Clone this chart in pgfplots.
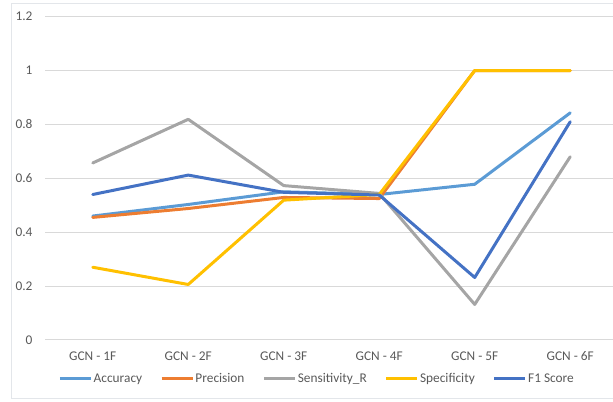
\documentclass[border=0pt]{standalone}
\usepackage{pgfplots}
\pgfplotsset{compat=1.18}
\usepackage{fontspec}
\setmainfont{Carlito}
\definecolor{cAcc}{HTML}{5B9BD5}
\definecolor{cPre}{HTML}{ED7D31}
\definecolor{cSen}{HTML}{A5A5A5}
\definecolor{cSpe}{HTML}{FFC000}
\definecolor{cF1}{HTML}{4472C4}
\definecolor{gridc}{HTML}{D9D9D9}
\definecolor{framec}{HTML}{E3E6EA}
\definecolor{textc}{HTML}{595959}
\begin{document}
\begin{tikzpicture}[x=1pt,y=1pt]
\useasboundingbox (0,0) rectangle (459.75,301.5);
\draw[framec, line width=0.75pt] (470,298.7) -- (8.25,298.7) -- (8.25,2.25) -- (470,2.25);
\begin{axis}[
  at={(33.75pt,46.5pt)}, anchor=south west,
  scale only axis, width=426pt, height=242.5pt,
  xmin=-0.5, xmax=5.448, ymin=0, ymax=1.2,
  axis x line*=bottom, axis y line*=left,
  y axis line style={draw=none},
  x axis line style={gridc, line width=0.75pt},
  ymajorgrids, grid style={gridc, line width=0.75pt},
  ytick={0,0.2,0.4,0.6,0.8,1,1.2},
  yticklabels={0,0.2,0.4,0.6,0.8,1,1.2},
  ytick style={draw=none},
  yticklabel style={anchor=east, inner sep=0pt, xshift=-9.2pt, font=\fontsize{10}{12}\selectfont, text=textc},
  xtick={0,1,2,3,4,5},
  xticklabels={GCN - 1F,GCN - 2F,GCN - 3F,GCN - 4F,GCN - 5F,GCN - 6F},
  xtick style={draw=none},
  xticklabel style={anchor=base, inner sep=0pt, yshift=-15.5pt, font=\fontsize{10}{12}\selectfont, text=textc},
  extra x ticks={-0.5,0.5,1.5,2.5,3.5,4.5},
  extra x tick labels={},
  extra x tick style={tick align=outside, major tick length=3.5pt, tick style={draw=gridc, line width=0.75pt}},
  every axis plot/.append style={line width=2.25pt, line join=round, line cap=round},
  legend columns=-1,
  legend style={at={(0.4785,-0.12)}, anchor=center, draw=none, fill=none,
    font=\fontsize{10}{12}\selectfont, text=textc,
    nodes={inner sep=1pt},
    /tikz/every even column/.append style={column sep=12.5pt}},
  legend image code/.code={\draw[#1, line cap=butt] (0pt,0pt) -- (23.25pt,0pt);},
]
\addplot[cAcc] coordinates {(0,0.46) (1,0.503) (2,0.55) (3,0.54) (4,0.578) (5,0.843)};
\addlegendentry{Accuracy}
\addplot[cPre] coordinates {(0,0.455) (1,0.488) (2,0.529) (3,0.525) (4,1) (5,1)};
\addlegendentry{Precision}
\addplot[cSen] coordinates {(0,0.657) (1,0.819) (2,0.573) (3,0.544) (4,0.132) (5,0.68)};
\addlegendentry{Sensitivity\_R}
\addplot[cSpe] coordinates {(0,0.27) (1,0.206) (2,0.519) (3,0.54) (4,1) (5,1)};
\addlegendentry{Specificity}
\addplot[cF1] coordinates {(0,0.54) (1,0.612) (2,0.548) (3,0.538) (4,0.232) (5,0.81)};
\addlegendentry{F1 Score}
\end{axis}
\end{tikzpicture}
\end{document}
